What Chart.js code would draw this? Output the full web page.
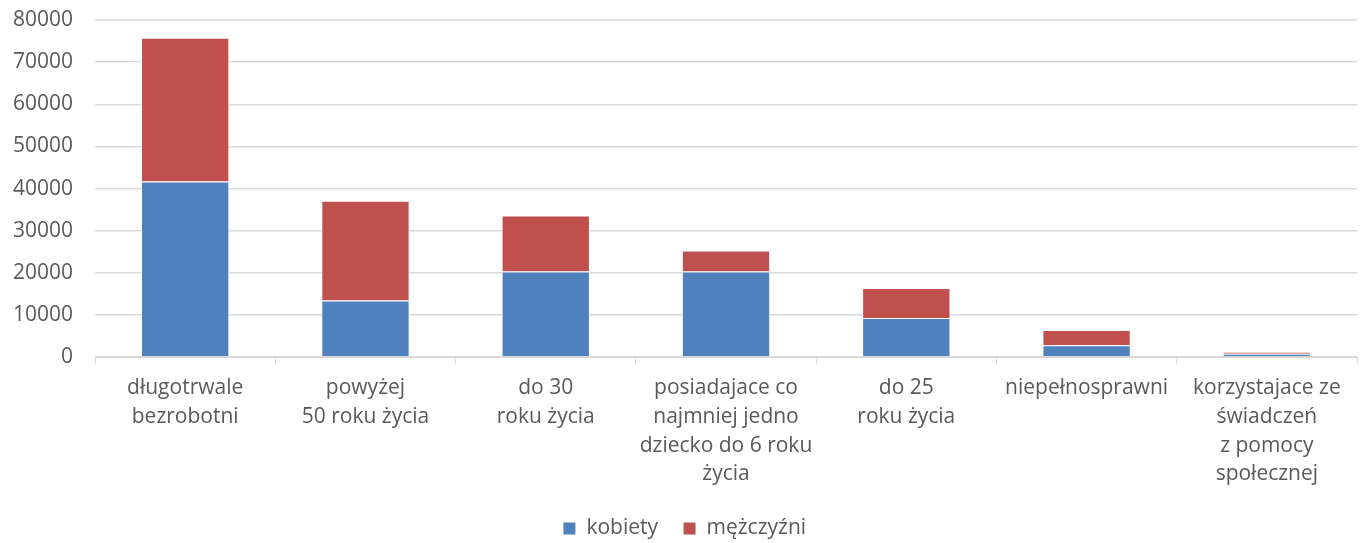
<!DOCTYPE html>
<html>
<head>
<meta charset="utf-8">
<script src="https://cdn.jsdelivr.net/npm/chart.js@4"></script>
<style>
  html, body { margin: 0; padding: 0; background: #fff; }
  #wrap { width: 1365px; height: 543px; }
</style>
</head>
<body>
<div id="wrap"><canvas id="wykres"></canvas></div>
<script>
const kategorie = [
    ['długotrwale', 'bezrobotni'],
    ['powyżej', '50 roku życia'],
    ['do 30', 'roku życia'],
    ['posiadajace co', 'najmniej jedno', 'dziecko do 6 roku', 'życia'],
    ['do 25', 'roku życia'],
    'niepełnosprawni',
    ['korzystajace ze', 'świadczeń', 'z pomocy', 'społecznej']
];
const kobiety = [41700, 13400, 20300, 20300, 9300, 2800, 800];
const mezczyzni = [34100, 23700, 13300, 5000, 7100, 3600, 400];
const osY = { min: 0, max: 80000, krok: 10000 };

const szary = '#595959';
const czcionka = { family: '"Open Sans", sans-serif', size: 21 };

new Chart(document.getElementById('wykres'), {
    type: 'bar',
    data: {
        labels: kategorie,
        datasets: [{
            label: 'kobiety',
            data: kobiety,
            backgroundColor: '#4f81bd',
            borderColor: '#ffffff',
            borderWidth: 1,
            barPercentage: 0.49,
            categoryPercentage: 1
        }, {
            label: 'mężczyźni',
            data: mezczyzni,
            backgroundColor: '#c0504d',
            borderColor: '#ffffff',
            borderWidth: 1,
            barPercentage: 0.49,
            categoryPercentage: 1
        }]
    },
    options: {
        responsive: true,
        maintainAspectRatio: false,
        animation: false,
        layout: { padding: { top: 0, right: 8, left: 12, bottom: -6 } },
        plugins: {
            tooltip: { enabled: false },
            legend: {
                position: 'bottom',
                labels: {
                    color: szary,
                    font: czcionka,
                    boxWidth: 13,
                    boxHeight: 13,
                    padding: 25
                }
            }
        },
        scales: {
            x: {
                stacked: true,
                grid: {
                    offset: true,
                    drawOnChartArea: false,
                    drawTicks: true,
                    tickLength: 7,
                    color: '#d9d9d9'
                },
                border: { color: '#d9d9d9', width: 1 },
                ticks: {
                    color: szary,
                    font: Object.assign({ lineHeight: 1.38 }, czcionka),
                    maxRotation: 0,
                    autoSkip: false,
                    padding: 9
                },
                afterFit: s => { s.height -= 5; }
            },
            y: {
                stacked: true,
                min: osY.min,
                max: osY.max,
                grid: {
                    color: '#d9d9d9',
                    lineWidth: 1.5,
                    drawTicks: false
                },
                border: { display: false },
                ticks: {
                    stepSize: osY.krok,
                    color: szary,
                    font: czcionka,
                    padding: 22,
                    callback: v => String(v)
                },
                afterFit: s => {
                    s.paddingTop = 20;
                    s.width -= 21;
                }
            }
        }
    }
});
</script>
</body>
</html>
